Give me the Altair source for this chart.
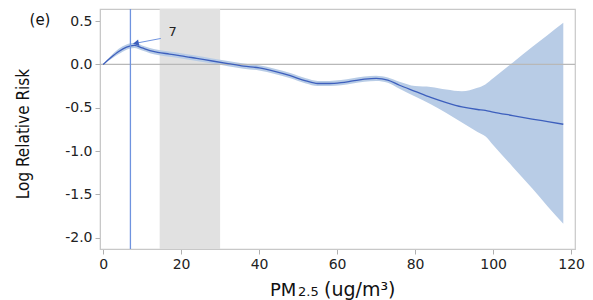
import altair as alt
import pandas as pd

# ---- data ----
pm = [0, 2, 4, 6, 8, 10, 12, 14, 17, 20, 24, 28, 32, 36, 40, 44, 48, 52, 55, 58,
      61, 64, 67, 70, 73, 76, 80, 84, 88, 92, 96, 98, 100, 105, 110, 114, 118]
log_rr = [0.0, 0.08, 0.15, 0.2, 0.22, 0.19, 0.16, 0.14, 0.12, 0.1, 0.07, 0.04, 0.01,
          -0.02, -0.04, -0.08, -0.13, -0.19, -0.22, -0.22, -0.21, -0.19, -0.17, -0.16,
          -0.18, -0.24, -0.31, -0.38, -0.44, -0.49, -0.52, -0.53, -0.55, -0.59, -0.63,
          -0.66, -0.69]
upper = [0.0, 0.1, 0.18, 0.23, 0.25, 0.22, 0.19, 0.17, 0.15, 0.13, 0.1, 0.07, 0.04,
         0.01, -0.01, -0.05, -0.1, -0.16, -0.19, -0.19, -0.18, -0.16, -0.14, -0.13,
         -0.15, -0.2, -0.25, -0.26, -0.29, -0.31, -0.27, -0.23, -0.16, 0.02, 0.2,
         0.34, 0.48]
lower = [0.0, 0.06, 0.12, 0.17, 0.19, 0.16, 0.13, 0.11, 0.09, 0.07, 0.04, 0.01, -0.02,
         -0.05, -0.07, -0.11, -0.16, -0.22, -0.25, -0.25, -0.24, -0.22, -0.2, -0.19,
         -0.21, -0.28, -0.37, -0.46, -0.56, -0.67, -0.78, -0.83, -0.93, -1.18, -1.43,
         -1.64, -1.84]

band_start = [14.5]
band_end = [30]
threshold = [7]
x_ticks = [0, 20, 40, 60, 80, 100, 120]
y_ticks = [-2.0, -1.5, -1.0, -0.5, 0.0, 0.5]

df = pd.DataFrame({"pm": pm, "rr": log_rr, "lo": lower, "hi": upper})

W, H = 475, 240
xs = alt.Scale(domain=[-0.8, 121], nice=False, zero=False)
ys = alt.Scale(domain=[-2.13, 0.64], nice=False, zero=False)

xaxis = alt.Axis(values=x_ticks, title=None, grid=False, labelFontSize=14,
                 labelFont="DejaVu Sans", labelColor="#222222", tickSize=5,
                 labelPadding=3, domainColor="#c8c8c8", tickColor="#b0b0b0")
yaxis = alt.Axis(values=y_ticks, title=None, grid=False, format=".1f",
                 labelExpr="replace(datum.label, '−', '-')", labelFontSize=14,
                 labelFont="DejaVu Sans", labelColor="#222222", tickSize=5,
                 labelPadding=3, domainColor="#c8c8c8", tickColor="#b0b0b0")

base = alt.Chart(df)

shade = alt.Chart(pd.DataFrame({"a": band_start, "b": band_end})).mark_rect(
    color="#e1e1e1").encode(
    x=alt.X("a:Q", scale=xs, axis=xaxis), x2="b:Q",
    y=alt.value(0), y2=alt.value(H))

area = base.mark_area(color="#b8cce6", opacity=1, interpolate="monotone").encode(
    x=alt.X("pm:Q", scale=xs, axis=xaxis),
    y=alt.Y("lo:Q", scale=ys, axis=yaxis), y2="hi:Q")

zero = alt.Chart(pd.DataFrame({"z": [0.0]})).mark_rule(
    color="#b8b8b8", strokeWidth=1.2).encode(
    y=alt.Y("z:Q", scale=ys, axis=yaxis), x=alt.value(0), x2=alt.value(W))

line = base.mark_line(color="#3d5fbd", strokeWidth=1.3, interpolate="monotone").encode(
    x=alt.X("pm:Q", scale=xs, axis=xaxis),
    y=alt.Y("rr:Q", scale=ys, axis=yaxis))

vline = alt.Chart(pd.DataFrame({"t": threshold})).mark_rule(
    color="#6f93df", strokeWidth=1.3).encode(
    x=alt.X("t:Q", scale=xs, axis=xaxis), y=alt.value(0), y2=alt.value(H))

arrow_df = pd.DataFrame({"x": [8.4], "y": [0.245], "x2": [14.8], "y2": [0.30]})
arrow = alt.Chart(arrow_df).mark_rule(color="#6f93df", strokeWidth=1).encode(
    x=alt.X("x:Q", scale=xs), y=alt.Y("y:Q", scale=ys), x2="x2:Q", y2="y2:Q")
head = alt.Chart(arrow_df).mark_point(
    shape="triangle-up", filled=True, size=45, angle=259, color="#3d5fbd",
    opacity=1).encode(x=alt.X("x:Q", scale=xs), y=alt.Y("y:Q", scale=ys))

lab7 = alt.Chart(pd.DataFrame({"x": [17.8], "y": [0.30], "t": ["7"]})).mark_text(
    font="DejaVu Sans", fontSize=13, color="#222222", align="center",
    baseline="bottom", dy=1).encode(
    x=alt.X("x:Q", scale=xs), y=alt.Y("y:Q", scale=ys), text="t:N")

one = pd.DataFrame({"d": [0]})


def txt(t, x, y, size, align="left", angle=0, font="DejaVu Sans", baseline="alphabetic"):
    kw = dict(font=font, fontSize=size, color="#111111", align=align,
              baseline=baseline)
    if angle:
        kw["angle"] = angle
    return alt.Chart(one).mark_text(text=t, **kw).encode(
        x=alt.value(x), y=alt.value(y))


panel = txt("(e)", -60, 16, 15, align="center")
ytitle = txt("Log Relative Risk", -76, 125, 17, align="center", angle=270,
             font="DejaVu Sans Condensed, Liberation Sans Narrow, Roboto Condensed, Open Sans Condensed, Lato",
             baseline="middle")
xt1 = txt("PM", 170, 287, 18, align="left")
xt2 = txt("2.5", 198, 287, 13, align="left")
xt3 = txt("(ug/m³)", 224, 287, 19, align="left")

chart = alt.layer(shade, area, zero, line, vline, arrow, head, lab7,
                  panel, ytitle, xt1, xt2, xt3).properties(
    width=W, height=H,
    autosize=alt.AutoSizeParams(type="none"),
    padding={"left": 92, "top": 1, "right": 10, "bottom": 51},
).configure_view(stroke="#c8c8c8", strokeWidth=1.2).configure_axis(
    labelFlush=False)

chart.save("out.html", embed_options={"renderer": "svg", "actions": False})
